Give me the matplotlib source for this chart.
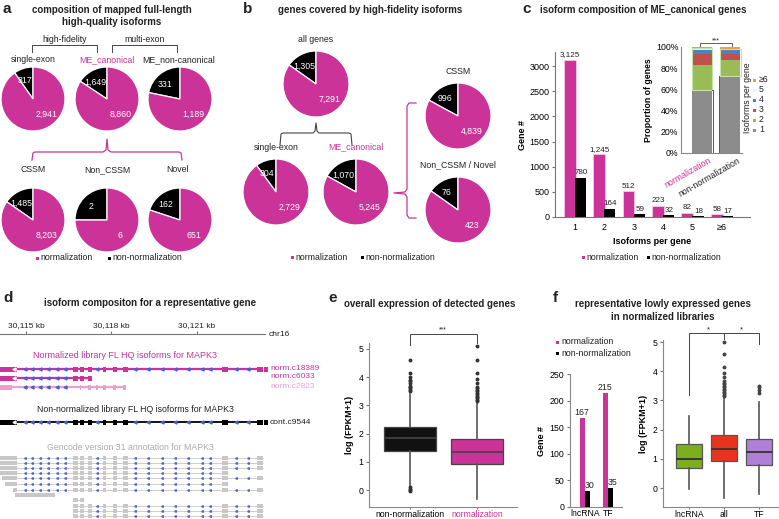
import numpy as np
import matplotlib
matplotlib.use("Agg")
import matplotlib.pyplot as plt
from matplotlib.patches import Rectangle

plt.rcParams['font.family'] = ['Liberation Sans', 'DejaVu Sans']

W, H = 779, 519
MAG = '#cc3399'
TXT = '#222222'
FS = 6.3

# ---- panel a: mapped FL HQ isoforms ----
a_top_labels = ['single-exon', 'ME_canonical', 'ME_non-canonical']
a_top_norm = [2941, 8860, 1189]
a_top_non = [317, 1649, 331]
a_bot_labels = ['CSSM', 'Non_CSSM', 'Novel']
a_bot_norm = [8203, 6, 651]
a_bot_non = [1485, 2, 162]

# ---- panel b: genes covered ----
b_labels = ['all genes', 'single-exon', 'ME_canonical', 'CSSM', 'Non_CSSM / Novel']
b_norm = [7291, 2729, 5245, 4839, 423]
b_non = [1305, 304, 1070, 996, 76]

# ---- panel c: isoforms per gene ----
c_cats = ['1', '2', '3', '4', '5', '≥6']
c_norm = [3125, 1245, 512, 223, 82, 58]
c_non = [780, 164, 59, 32, 18, 17]
c_norm_pct = [59.6, 23.7, 9.8, 4.3, 1.6, 1.1]
c_non_pct = [72.9, 15.3, 5.5, 3.0, 1.7, 1.6]
c_seg_colors = ['#8c8c8c', '#9bbb59', '#c0504d', '#4f81bd', '#eaf3e0', '#f79646']

# ---- panel d: MAPK3 isoforms (kb) ----
d_ticks = [30115, 30118, 30121]
exons_full = [(30114.09, 30114.68), (30116.65, 30116.82), (30116.89, 30117.04),
              (30117.18, 30117.32), (30117.70, 30117.81), (30118.05, 30118.19),
              (30118.40, 30118.58), (30121.88, 30122.09), (30123.11, 30123.32)]
exons_c2823 = [(30114.09, 30114.51), (30116.89, 30116.95), (30117.18, 30117.30),
               (30117.45, 30117.52), (30117.70, 30117.81), (30118.05, 30118.16),
               (30118.40, 30118.51)]
intron_marks = [30114.96, 30115.21, 30115.49, 30115.77, 30116.09, 30116.37, 30117.49,
                30118.82, 30119.28, 30119.77, 30120.23, 30120.68, 30121.18, 30121.46,
                30122.37, 30122.79]
gc_start = [30114.09, 30114.09, 30114.09, 30114.09, 30114.15, 30114.26,
            30114.54, 30114.61, 30116.65, 30116.65, 30116.65, 30116.65]
gc_end = [30123.32, 30123.32, 30123.32, 30122.96, 30123.32, 30123.11,
          30123.35, 30116.02, 30117.14, 30123.32, 30123.32, 30123.32]
gc_y = [458, 463, 468, 473, 478, 484, 490, 495, 500, 506, 511, 516]

# ---- panel e: overall expression ----
e_names = ['non-normalization', 'normalization']
e_med = [1.85, 1.35]
e_q1 = [1.40, 0.92]
e_q3 = [2.25, 1.80]
e_lo = [0.15, -0.33]
e_hi = [3.42, 3.10]
e_fliers = [[4.6, 4.15, 4.0, 3.9, 3.85, 3.8, 3.7, 3.65, 3.6, 3.55, 3.5, 0.1, 0.05, 0.0, -0.05],
            [5.1, 4.6, 4.15, 3.95, 3.8, 3.65, 3.6, 3.55, 3.5, 3.45, 3.4, 3.35, 3.3, 3.25, 3.2, 3.15]]

# ---- panel f: lowly expressed genes ----
f_cats = ['lncRNA', 'TF']
f_norm = [167, 215]
f_non = [30, 35]
f_names = ['lncRNA', 'all', 'TF']
f_med = [1.0, 1.35, 1.22]
f_q1 = [0.67, 0.93, 0.78]
f_q3 = [1.52, 1.80, 1.68]
f_lo = [-0.02, -0.33, -0.22]
f_hi = [2.45, 3.10, 2.95]
f_fliers = [[], [5.0, 4.6, 4.15, 3.95, 3.8, 3.65, 3.6, 3.55, 3.5, 3.45, 3.4, 3.35, 3.3, 3.25, 3.2, 3.15],
            [3.5, 3.45, 3.35, 3.25]]
f_colors = ['#7cae1e', '#e8341c', '#b07fd6']


fig = plt.figure(figsize=(W / 100, H / 100), dpi=100)


def px_rect(x0, y0, x1, y1):
    return [x0 / W, 1 - y1 / H, (x1 - x0) / W, (y1 - y0) / H]


def style_axes(ax, color='#888'):
    for s in ['top', 'right']:
        ax.spines[s].set_visible(False)
    for s in ['left', 'bottom']:
        ax.spines[s].set_color(color)
        ax.spines[s].set_linewidth(0.8)


def pie_at(cx, cy, r, non, norm):
    ax = fig.add_axes(px_rect(cx - r, cy - r, cx + r, cy + r))
    ax.pie([non, norm], colors=['black', MAG], startangle=90, counterclock=True,
           wedgeprops=dict(edgecolor='white', linewidth=0.9))
    ax.set_xlim(-1, 1)
    ax.set_ylim(-1, 1)
    ang = np.deg2rad(90 + 180 * non / (non + norm))
    ax.text(0.6 * np.cos(ang) - 0.08, 0.6 * np.sin(ang), f'{non:,}', color='white',
            ha='center', va='center', fontsize=FS)
    ax.text(0.42, -0.47, f'{norm:,}', color='white', ha='center', va='center', fontsize=FS)


# panel a pies
for i, cx in enumerate([33, 107, 180]):
    pie_at(cx, 99, 32, a_top_non[i], a_top_norm[i])
    pie_at(cx, 220, 32, a_bot_non[i], a_bot_norm[i])

# panel b pies
b_pos = [(316, 84), (276, 192), (356, 192), (458, 116), (458, 210)]
for (cx, cy), nn, n in zip(b_pos, b_non, b_norm):
    pie_at(cx, cy, 33, nn, n)

# panel c main bars
axc = fig.add_axes(px_rect(555, 52, 750, 217))
xc = np.arange(1, len(c_cats) + 1)
axc.bar(xc - 0.18, c_norm, width=0.4, color=MAG, edgecolor='#f5c8e6', linewidth=0.6)
axc.bar(xc + 0.18, c_non, width=0.38, color='black')
for x, v in zip(xc - 0.18, c_norm):
    axc.text(x, v + 30, f'{v:,}', ha='center', va='bottom', fontsize=5.8, color=TXT)
for x, v in zip(xc + 0.2, c_non):
    axc.text(x, v + 30, f'{v:,}', ha='center', va='bottom', fontsize=5.8, color=TXT)
axc.set_xlim(0.32, 6.95)
axc.set_ylim(0, 3280)
axc.set_xticks(xc, c_cats)
axc.set_yticks(range(0, 3001, 500))
axc.tick_params(axis='x', length=0, labelsize=6.5, pad=4)
axc.tick_params(axis='y', length=2, labelsize=6.5, pad=2, color='#777')
style_axes(axc, '#777')
axc.set_xlabel('Isoforms per gene', fontsize=6.5, fontweight='bold', labelpad=4)
axc.set_ylabel('Gene #', fontsize=6.5, fontweight='bold', labelpad=2)

# panel c inset stacked bars
axi = fig.add_axes(px_rect(681, 47, 742, 153))
bottoms = [0.0, 0.0]
for k in range(len(c_cats)):
    vals = [c_norm_pct[k], c_non_pct[k]]
    axi.bar([0, 1], vals, bottom=bottoms, width=0.72, color=c_seg_colors[k])
    bottoms = [bottoms[0] + vals[0], bottoms[1] + vals[1]]
axi.bar([0], [sum(c_norm_pct[1:5])], bottom=[c_norm_pct[0]], width=0.72, fill=False,
        edgecolor='#bfe6a8', linewidth=0.8)
axi.bar([1.03], [sum(c_non_pct[1:5])], bottom=[c_non_pct[0]], width=0.78, fill=False,
        edgecolor='#bfe6a8', linewidth=0.8)
axi.plot([0.37, 0.4, 0.4], [c_norm_pct[0], c_norm_pct[0], 0], color='#555', lw=0.7)
axi.plot([0.63, 0.6, 0.6], [c_non_pct[0], c_non_pct[0], 0], color='#555', lw=0.7)
axi.set_xlim(-0.76, 1.45)
axi.set_ylim(0, 100)
axi.set_yticks(range(0, 101, 20), [f'{v}%' for v in range(0, 101, 20)])
axi.set_xticks([])
axi.tick_params(axis='y', length=0, labelsize=6.3, pad=2)
style_axes(axi)
axi.set_ylabel('Proportion of genes', fontsize=6.3, fontweight='bold', labelpad=2)

# panel d ruler and tracks
axr = fig.add_axes(px_rect(0, 333.5, 265, 334))
axr.set_xlim(30114.09, 30123.39)
axr.set_yticks([])
axr.xaxis.tick_top()
axr.set_xticks(d_ticks, [f'{t:,} kb' for t in d_ticks])
axr.tick_params(axis='x', length=2.5, labelsize=6, pad=1, color='#777', labelcolor=TXT)
for s in ['top', 'left', 'right']:
    axr.spines[s].set_visible(False)
axr.spines['bottom'].set_color('#777')
axr.spines['bottom'].set_linewidth(0.8)
axr.patch.set_alpha(0)

axd = fig.add_axes(px_rect(0, 340, 265, 519))
axd.set_xlim(30114.09, 30123.39)
axd.set_ylim(519, 340)
axd.axis('off')


def track(exons, y, color, lw, h, mark_size, arrow=False):
    x0, x1 = exons[0][0], exons[-1][1]
    axd.plot([x0, x1], [y, y], color=color, lw=lw, solid_capstyle='butt', zorder=2)
    for s, e in exons:
        axd.add_patch(Rectangle((s, y - h / 2), e - s, h, color=color, lw=0, zorder=3))
    inside = [m for m in intron_marks if x0 < m < x1 and not any(s <= m <= e for s, e in exons)]
    axd.plot(inside, [y] * len(inside), ls='none', marker='<', ms=mark_size,
             color='#4a5fd3', zorder=4)
    if arrow:
        axd.plot([30114.57], [y], ls='none', marker='<', ms=2.2, color='white', zorder=5)


track(exons_full, 369, MAG, 1.6, 5, 2.2, True)
track(exons_full[:4], 378, MAG, 1.6, 5, 2.2, True)
track(exons_c2823, 387, '#ee9fd2', 1.6, 5, 2.2)
track(exons_full, 422, 'black', 1.3, 5, 2.2, True)
for y, s0, e0 in zip(gc_y, gc_start, gc_end):
    ex = [(max(s, s0), min(e, e0)) for s, e in exons_full if e > s0 and s < e0]
    if len(ex) < 2:
        ex = [(s0, e0)]
    track(ex, y, '#c8c8c8', 0.6, 3.5, 1.2)

# panel e boxplot
axe = fig.add_axes(px_rect(369, 343, 517, 507))
e_stats = [dict(med=m, q1=a, q3=b, whislo=lo, whishi=hi, fliers=fl, label=n)
           for m, a, b, lo, hi, fl, n in zip(e_med, e_q1, e_q3, e_lo, e_hi, e_fliers, e_names)]
bp = axe.bxp(e_stats, positions=[1, 2], widths=0.78, patch_artist=True, showcaps=False,
             boxprops=dict(edgecolor='#444', linewidth=0.9),
             whiskerprops=dict(color='#555', linewidth=1.2),
             medianprops=dict(color='#444', linewidth=1.2),
             flierprops=dict(marker='o', markersize=1.8, markerfacecolor='#333',
                             markeredgecolor='#333'))
for patch, c in zip(bp['boxes'], ['#111111', MAG]):
    patch.set_facecolor(c)
axe.set_xlim(0.39, 2.6)
axe.set_ylim(-0.6, 5.21)
axe.set_yticks(range(0, 6))
axe.get_xticklabels()[1].set_color(MAG)
axe.tick_params(axis='y', length=2, labelsize=6.3, color='#777', pad=2)
axe.tick_params(axis='x', length=1.5, labelsize=6.2, color='#777', pad=0.8)
style_axes(axe)
axe.set_ylabel('log (FPKM+1)', fontsize=6.5, fontweight='bold', labelpad=3)
axe.plot([1, 1, 2, 2], [5.15, 5.53, 5.53, 5.2], color='#444', lw=0.7, clip_on=False)
axe.text(1.5, 5.55, '***', ha='center', va='bottom', fontsize=5, color=TXT)

# panel f bars
axf = fig.add_axes(px_rect(570, 374, 622, 507))
xf = np.arange(len(f_cats))
axf.bar(xf - 0.11, f_norm, width=0.22, color=MAG)
axf.bar(xf + 0.11, f_non, width=0.22, color='black')
for x, v in zip(xf - 0.13, f_norm):
    axf.text(x, v + 2, str(v), ha='center', va='bottom', fontsize=6.3, color=TXT)
for x, v in zip(xf + 0.2, f_non):
    axf.text(x, v + 2, str(v), ha='center', va='bottom', fontsize=6.3, color=TXT)
axf.set_xlim(-0.65, 1.6)
axf.set_ylim(0, 250)
axf.set_yticks(range(0, 251, 50))
axf.set_xticks(xf, f_cats)
axf.tick_params(axis='x', length=0, labelsize=6.2, pad=1.5)
axf.tick_params(axis='y', length=2, labelsize=6.3, pad=2, color='#777')
style_axes(axf)
axf.set_ylabel('Gene #', fontsize=6.5, fontweight='bold', labelpad=3)

# panel f boxplot
axg = fig.add_axes(px_rect(663, 340, 785, 507))
f_stats = [dict(med=m, q1=a, q3=b, whislo=lo, whishi=hi, fliers=fl, label=n)
           for m, a, b, lo, hi, fl, n in zip(f_med, f_q1, f_q3, f_lo, f_hi, f_fliers, f_names)]
bp = axg.bxp(f_stats, positions=[1, 2, 3], widths=0.75, patch_artist=True, showcaps=False,
             boxprops=dict(edgecolor='#555', linewidth=0.9),
             whiskerprops=dict(color='#555', linewidth=1.2),
             medianprops=dict(color='#333', linewidth=1.3),
             flierprops=dict(marker='o', markersize=1.8, markerfacecolor='#444',
                             markeredgecolor='#444'))
for patch, c in zip(bp['boxes'], f_colors):
    patch.set_facecolor(c)
axg.set_xlim(0.26, 3.74)
axg.set_ylim(-0.65, 5.07)
axg.set_yticks(range(0, 6))
axg.tick_params(axis='y', length=2, labelsize=6.3, color='#777', pad=2)
axg.tick_params(axis='x', length=1.5, labelsize=6.2, color='#777', pad=0.8)
style_axes(axg)
axg.set_ylabel('log (FPKM+1)', fontsize=6.5, fontweight='bold', labelpad=3)
axg.plot([1, 1, 3, 3], [3.2, 5.3, 5.3, 4.95], color='#444', lw=0.7, clip_on=False)
axg.plot([2, 2], [5.3, 5.1], color='#444', lw=0.7, clip_on=False)
axg.text(1.55, 5.3, '*', ha='center', va='bottom', fontsize=5.5, color=TXT)
axg.text(2.5, 5.3, '*', ha='center', va='bottom', fontsize=5.5, color=TXT)

# overlay for text, brackets and legends (pixel coords)
ov = fig.add_axes([0, 0, 1, 1])
ov.set_xlim(0, W)
ov.set_ylim(H, 0)
ov.axis('off')
ov.patch.set_alpha(0)


def t(x, y, s, size=FS, **kw):
    kw.setdefault('ha', 'center')
    kw.setdefault('va', 'center')
    kw.setdefault('color', TXT)
    ov.text(x, y, s, fontsize=size, **kw)


def legend_pair(x1, x2, y):
    for x, c, s in [(x1, MAG, 'normalization'), (x2, 'black', 'non-normalization')]:
        ov.add_patch(Rectangle((x - 1.5, y - 1.5), 3, 3, color=c, lw=0))
        t(x + 2.5, y, s, ha='left')


for x, s in [(3, 'a'), (243, 'b'), (522, 'c'), (3, 'd'), (328, 'e'), (553, 'f')]:
    y = 9 if s in 'abc' else 298
    t(x, y, s, size=11, fontweight='bold', ha='left')

# panel a text
t(112, 10, 'composition of mapped full-length', size=7, fontweight='bold')
t(112, 22, 'high-quality isoforms', size=7, fontweight='bold')
t(65, 40, 'high-fidelity')
t(145, 40, 'multi-exon')
ov.plot([32, 32, 97, 97], [52, 45, 45, 52], color='#444', lw=0.7)
ov.plot([112, 112, 177, 177], [52, 45, 45, 52], color='#444', lw=0.7)
for x, s in zip([33, 107, 179], a_top_labels):
    t(x, 60, s, color=MAG if s == 'ME_canonical' else TXT)
for x, s in zip([33, 107, 178], a_bot_labels):
    t(x, 170, s)
ov.plot([32, 33, 35, 103, 106, 107, 108, 111, 179, 181, 182],
        [160, 153, 152, 152, 150, 139, 150, 152, 152, 153, 160], color=MAG, lw=0.9)
legend_pair(38, 110, 258)

# panel b text
t(370, 10, 'genes covered by high-fidelity isoforms', size=7, fontweight='bold')
for (cx, cy), s in zip(b_pos, b_labels):
    t(cx, cy - 45, s, color=MAG if s == 'ME_canonical' else TXT)
ov.plot([280, 281, 283, 313, 315, 316, 317, 319, 349, 351, 352],
        [145, 134, 133, 133, 131, 123, 131, 133, 133, 134, 145], color='#444', lw=0.8)
ov.plot([416, 409, 407, 407, 405, 394, 405, 407, 407, 409, 416],
        [103, 103, 106, 189, 192, 193, 194, 197, 215, 218, 218], color=MAG, lw=0.9)
legend_pair(293, 363, 257)

# panel c text
t(643, 10, 'isoform composition of ME_canonical genes', size=7, fontweight='bold')
ov.plot([700, 700, 732, 732], [46, 43, 43, 46], color='#444', lw=0.6)
t(716, 41, '***', size=5)
t(708, 156, 'normalization', rotation=30, ha='right', va='top', rotation_mode='anchor', color=MAG)
t(737, 156, 'non-normalization', rotation=30, ha='right', va='top', rotation_mode='anchor')
t(748, 98, 'Isoforms per gene', rotation=90)
for k, s in enumerate(c_cats[::-1]):
    y = 80 + k * 10
    ov.add_patch(Rectangle((753.5, y - 1.5), 3, 3, color=c_seg_colors[::-1][k], lw=0))
    t(759, y, s, ha='left')
legend_pair(584, 649, 257)

# panel d text
t(150, 303, 'isoform compositon for a representative gene', size=7, fontweight='bold')
t(269, 335, 'chr16', ha='left', size=6)
t(125, 355, 'Normalized library FL HQ isoforms for MAPK3', size=6.5, color=MAG)
for y, s, c in [(368, 'norm.c18389', MAG), (377, 'norm.c6033', MAG), (386, 'norm.c2823', '#ee9fd2')]:
    t(270, y, s, ha='left', size=6, color=c)
t(135, 409, 'Non-normalized library FL HQ isoforms for MAPK3', size=6.3)
t(270, 422, 'cont.c9544', ha='left', size=6)
ov.add_patch(Rectangle((264, 419.5), 4, 5, color='black', lw=0))
ov.add_patch(Rectangle((264, 366.5), 4, 5, color=MAG, lw=0))
t(130, 448, 'Gencode version 31 annotation for MAPK3', size=6.3, color='#aaaaaa')

# panel e, f text
t(430, 304, 'overall expression of detected genes', size=7, fontweight='bold')
t(663, 304, 'representative lowly expressed genes', size=7, fontweight='bold')
t(663, 317, 'in normalized libraries', size=7, fontweight='bold')
ov.add_patch(Rectangle((556.5, 340.5), 3, 3, color=MAG, lw=0))
t(561, 342, 'normalization', ha='left')
ov.add_patch(Rectangle((556.5, 351.5), 3, 3, color='black', lw=0))
t(561, 353, 'non-normalization', ha='left')

fig.savefig('out.png', dpi=100)
